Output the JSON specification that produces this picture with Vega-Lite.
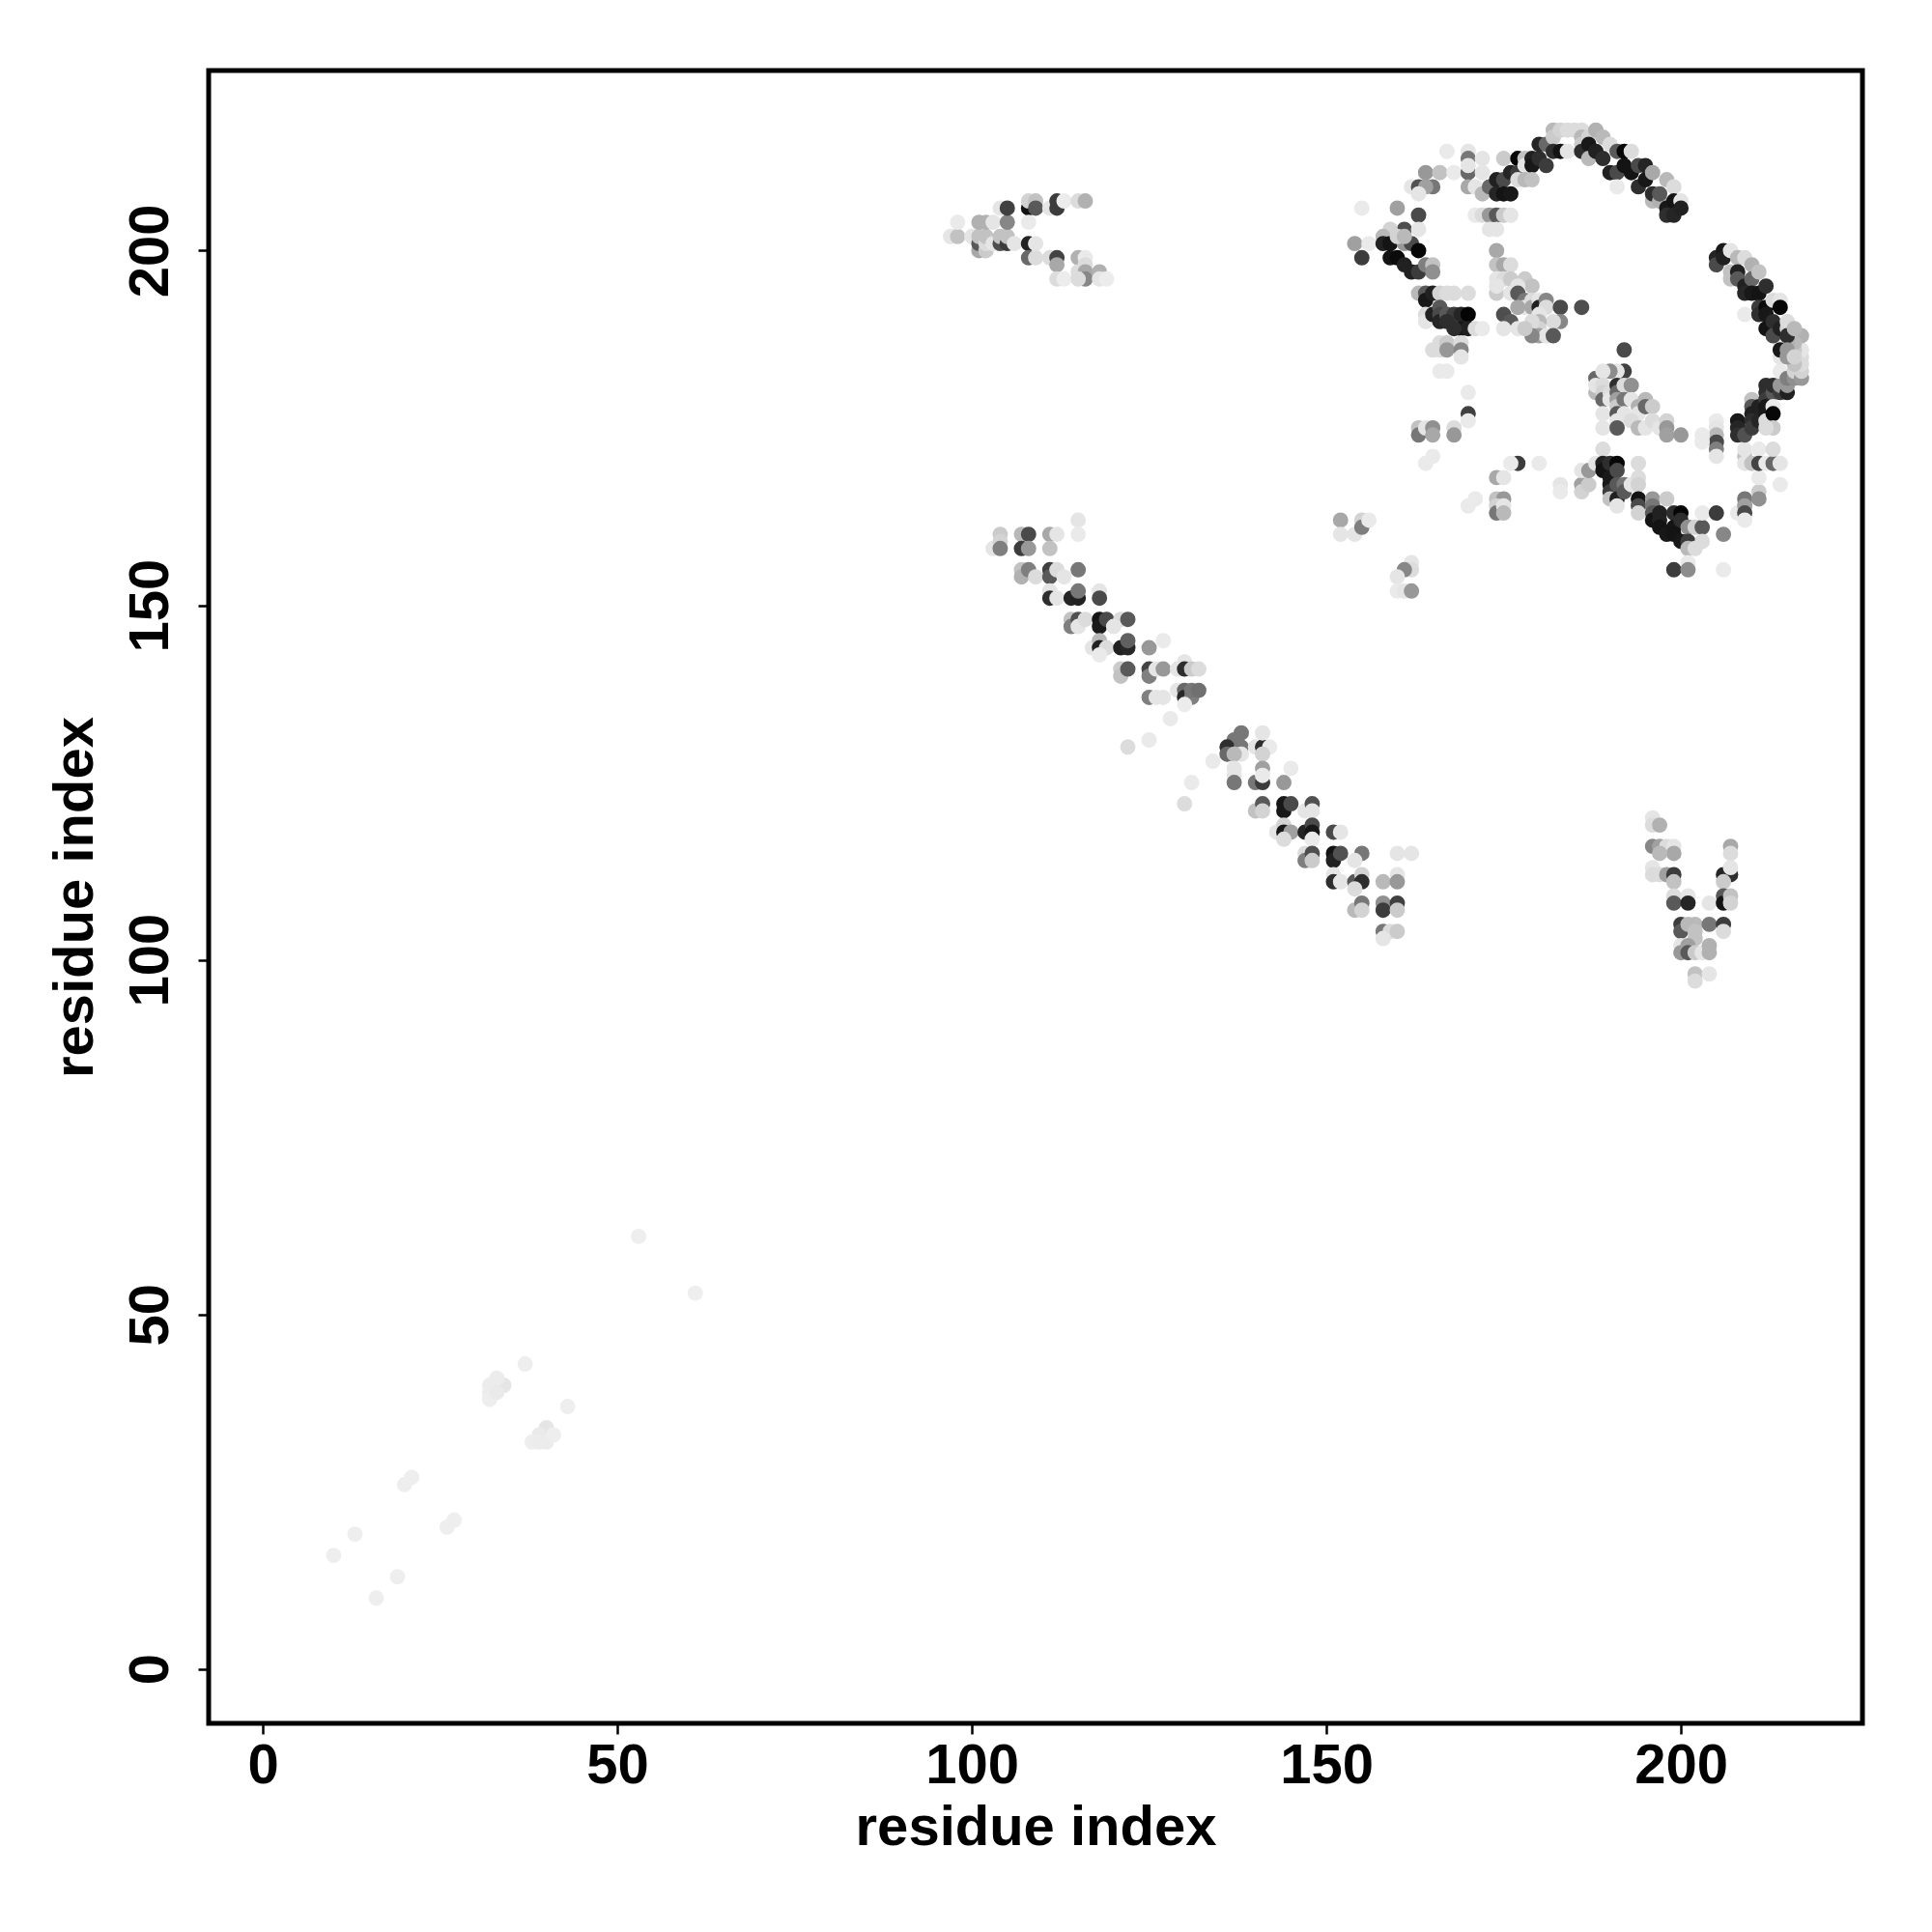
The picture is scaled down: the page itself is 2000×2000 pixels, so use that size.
{"$schema":"https://vega.github.io/schema/vega-lite/v6.json","autosize":"none","padding":{"left":216,"top":73,"right":72,"bottom":216},"width":1712,"height":1711,"background":"white","config":{"view":{"stroke":"black","strokeWidth":5}},
"data":{"values":[
{"x":53,"y":61,"v":240},{"x":61,"y":53,"v":240},{"x":37,"y":43,"v":240},{"x":43,"y":37,"v":240},{"x":34,"y":40,"v":232},{"x":33,"y":41,"v":238},{"x":32,"y":40,"v":238},{"x":32,"y":39,"v":238},{"x":32,"y":38,"v":240},{"x":33,"y":39,"v":236},{"x":40,"y":34,"v":232},{"x":39,"y":33,"v":236},{"x":38,"y":32,"v":240},{"x":39,"y":32,"v":238},{"x":40,"y":32,"v":238},{"x":41,"y":33,"v":240},{"x":21,"y":27,"v":240},{"x":20,"y":26,"v":240},{"x":27,"y":21,"v":240},{"x":26,"y":20,"v":240},{"x":13,"y":19,"v":240},{"x":10,"y":16,"v":240},{"x":19,"y":13,"v":240},{"x":16,"y":10,"v":240},
{"x":97,"y":202,"v":232},{"x":98,"y":202,"v":200},{"x":98,"y":204,"v":236},{"x":100,"y":202,"v":232},{"x":101,"y":200,"v":176},{"x":101,"y":201,"v":96},{"x":101,"y":202,"v":200},{"x":101,"y":204,"v":184},{"x":102,"y":200,"v":208},{"x":102,"y":201,"v":224},{"x":102,"y":202,"v":200},{"x":102,"y":204,"v":184},{"x":103,"y":201,"v":232},{"x":103,"y":204,"v":232},{"x":104,"y":201,"v":85},{"x":104,"y":202,"v":200},{"x":104,"y":206,"v":232},{"x":105,"y":201,"v":64},{"x":105,"y":202,"v":200},{"x":105,"y":204,"v":144},{"x":105,"y":206,"v":69},{"x":106,"y":201,"v":232},{"x":108,"y":201,"v":32},{"x":108,"y":206,"v":16},{"x":108,"y":207,"v":216},{"x":109,"y":207,"v":200},{"x":109,"y":206,"v":96},{"x":108,"y":204,"v":236},{"x":108,"y":199,"v":112},{"x":109,"y":199,"v":224},{"x":109,"y":201,"v":232},{"x":111,"y":199,"v":224},{"x":112,"y":199,"v":72},{"x":112,"y":198,"v":176},{"x":112,"y":196,"v":224},{"x":113,"y":196,"v":238},{"x":111,"y":206,"v":232},{"x":112,"y":207,"v":64},{"x":112,"y":206,"v":64},{"x":113,"y":207,"v":238},{"x":115,"y":207,"v":224},{"x":116,"y":207,"v":184},{"x":115,"y":199,"v":184},{"x":116,"y":199,"v":236},{"x":116,"y":198,"v":224},{"x":115,"y":197,"v":224},{"x":116,"y":197,"v":176},{"x":116,"y":196,"v":144},{"x":115,"y":196,"v":224},{"x":118,"y":197,"v":184},{"x":118,"y":196,"v":232},{"x":119,"y":196,"v":238},
{"x":103,"y":158,"v":232},{"x":104,"y":160,"v":208},{"x":104,"y":159,"v":216},{"x":104,"y":158,"v":136},{"x":107,"y":160,"v":192},{"x":108,"y":160,"v":80},{"x":107,"y":158,"v":64},{"x":108,"y":158,"v":160},{"x":111,"y":160,"v":176},{"x":112,"y":160,"v":232},{"x":111,"y":158,"v":200},{"x":115,"y":162,"v":232},{"x":115,"y":160,"v":236},{"x":107,"y":155,"v":200},{"x":107,"y":154,"v":184},{"x":108,"y":155,"v":136},{"x":109,"y":154,"v":224},{"x":111,"y":155,"v":69},{"x":111,"y":154,"v":96},{"x":112,"y":155,"v":224},{"x":113,"y":154,"v":232},{"x":115,"y":155,"v":128},{"x":111,"y":152,"v":232},{"x":111,"y":151,"v":48},{"x":112,"y":151,"v":232},{"x":114,"y":151,"v":37},{"x":115,"y":151,"v":32},{"x":115,"y":152,"v":128},{"x":118,"y":152,"v":232},{"x":118,"y":151,"v":80},{"x":114,"y":148,"v":200},{"x":114,"y":147,"v":136},{"x":115,"y":148,"v":88},{"x":115,"y":147,"v":232},{"x":116,"y":148,"v":224},{"x":118,"y":148,"v":16},{"x":118,"y":147,"v":24},{"x":119,"y":148,"v":80},{"x":121,"y":148,"v":224},{"x":122,"y":148,"v":96},{"x":120,"y":147,"v":232},{"x":117,"y":144,"v":232},{"x":118,"y":145,"v":192},{"x":118,"y":144,"v":32},{"x":119,"y":144,"v":224},{"x":118,"y":143,"v":236},{"x":121,"y":144,"v":32},{"x":122,"y":144,"v":40},{"x":122,"y":145,"v":104},{"x":125,"y":144,"v":160},{"x":127,"y":145,"v":236},{"x":121,"y":141,"v":208},{"x":121,"y":140,"v":200},{"x":122,"y":141,"v":96},{"x":125,"y":141,"v":72},{"x":125,"y":140,"v":136},{"x":126,"y":141,"v":232},{"x":127,"y":141,"v":160},{"x":129,"y":141,"v":232},{"x":130,"y":142,"v":232},{"x":130,"y":141,"v":48},{"x":131,"y":141,"v":208},{"x":132,"y":141,"v":224},{"x":125,"y":137,"v":136},{"x":126,"y":137,"v":232},{"x":127,"y":137,"v":232},{"x":129,"y":138,"v":232},{"x":130,"y":138,"v":112},{"x":130,"y":137,"v":40},{"x":131,"y":137,"v":136},{"x":131,"y":138,"v":128},{"x":132,"y":138,"v":120},{"x":130,"y":136,"v":238},{"x":128,"y":134,"v":236},{"x":125,"y":131,"v":236},{"x":122,"y":130,"v":224},
{"x":130,"y":122,"v":224},{"x":131,"y":125,"v":236},{"x":134,"y":128,"v":236},{"x":137,"y":131,"v":128},{"x":138,"y":132,"v":128},{"x":137,"y":130,"v":128},{"x":136,"y":130,"v":48},{"x":136,"y":129,"v":112},{"x":138,"y":130,"v":128},{"x":138,"y":129,"v":232},{"x":137,"y":129,"v":192},{"x":140,"y":130,"v":232},{"x":141,"y":130,"v":48},{"x":141,"y":132,"v":232},{"x":142,"y":130,"v":236},{"x":141,"y":129,"v":216},{"x":137,"y":127,"v":232},{"x":137,"y":126,"v":232},{"x":137,"y":125,"v":128},{"x":140,"y":125,"v":128},{"x":141,"y":127,"v":168},{"x":141,"y":125,"v":64},{"x":141,"y":126,"v":236},{"x":144,"y":125,"v":160},{"x":145,"y":127,"v":236},{"x":140,"y":121,"v":200},{"x":141,"y":122,"v":96},{"x":141,"y":121,"v":216},{"x":144,"y":122,"v":21},{"x":144,"y":121,"v":21},{"x":145,"y":122,"v":80},{"x":147,"y":121,"v":232},{"x":148,"y":122,"v":88},{"x":148,"y":121,"v":232},{"x":143,"y":118,"v":232},{"x":144,"y":119,"v":216},{"x":144,"y":118,"v":21},{"x":145,"y":118,"v":168},{"x":144,"y":117,"v":224},{"x":147,"y":118,"v":37},{"x":148,"y":119,"v":80},{"x":148,"y":118,"v":21},{"x":148,"y":117,"v":236},{"x":151,"y":118,"v":80},{"x":152,"y":118,"v":232},{"x":147,"y":115,"v":224},{"x":147,"y":114,"v":136},{"x":148,"y":115,"v":85},{"x":148,"y":114,"v":208},{"x":151,"y":115,"v":16},{"x":151,"y":114,"v":32},{"x":152,"y":115,"v":88},{"x":155,"y":115,"v":128},{"x":154,"y":114,"v":232},{"x":160,"y":115,"v":232},{"x":162,"y":115,"v":232},{"x":151,"y":112,"v":232},{"x":151,"y":111,"v":48},{"x":152,"y":111,"v":232},{"x":154,"y":111,"v":96},{"x":155,"y":112,"v":216},{"x":155,"y":111,"v":48},{"x":154,"y":110,"v":224},{"x":158,"y":111,"v":192},{"x":160,"y":112,"v":232},{"x":160,"y":111,"v":160},{"x":154,"y":107,"v":192},{"x":155,"y":108,"v":128},{"x":155,"y":107,"v":216},{"x":158,"y":108,"v":152},{"x":158,"y":107,"v":64},{"x":160,"y":108,"v":69},{"x":160,"y":107,"v":208},{"x":158,"y":104,"v":128},{"x":159,"y":104,"v":224},{"x":160,"y":104,"v":208},{"x":158,"y":103,"v":232},
{"x":196,"y":120,"v":232},{"x":196,"y":119,"v":224},{"x":197,"y":119,"v":184},{"x":196,"y":116,"v":144},{"x":197,"y":116,"v":168},{"x":198,"y":116,"v":224},{"x":199,"y":116,"v":232},{"x":199,"y":115,"v":176},{"x":197,"y":115,"v":192},{"x":196,"y":113,"v":232},{"x":196,"y":112,"v":224},{"x":197,"y":112,"v":224},{"x":198,"y":112,"v":168},{"x":199,"y":112,"v":64},{"x":199,"y":111,"v":200},{"x":199,"y":109,"v":224},{"x":199,"y":108,"v":96},{"x":201,"y":109,"v":232},{"x":201,"y":108,"v":37},{"x":204,"y":108,"v":232},{"x":200,"y":105,"v":64},{"x":200,"y":104,"v":96},{"x":201,"y":105,"v":192},{"x":202,"y":105,"v":192},{"x":202,"y":104,"v":200},{"x":202,"y":103,"v":200},{"x":204,"y":105,"v":128},{"x":206,"y":105,"v":64},{"x":206,"y":104,"v":224},{"x":200,"y":102,"v":232},{"x":200,"y":101,"v":160},{"x":201,"y":102,"v":168},{"x":201,"y":101,"v":96},{"x":202,"y":101,"v":208},{"x":203,"y":101,"v":232},{"x":204,"y":102,"v":184},{"x":204,"y":101,"v":184},{"x":202,"y":98,"v":200},{"x":202,"y":97,"v":224},{"x":204,"y":98,"v":232},{"x":207,"y":116,"v":176},{"x":207,"y":115,"v":224},{"x":206,"y":112,"v":37},{"x":207,"y":112,"v":48},{"x":207,"y":113,"v":232},{"x":206,"y":111,"v":208},{"x":206,"y":109,"v":96},{"x":206,"y":108,"v":16},{"x":207,"y":109,"v":200},{"x":207,"y":108,"v":216},
{"x":152,"y":162,"v":176},{"x":152,"y":160,"v":232},{"x":154,"y":160,"v":232},{"x":155,"y":162,"v":216},{"x":155,"y":161,"v":136},{"x":156,"y":162,"v":236},{"x":162,"y":156,"v":232},{"x":162,"y":155,"v":224},{"x":161,"y":155,"v":144},{"x":160,"y":154,"v":232},{"x":160,"y":152,"v":236},{"x":161,"y":152,"v":232},{"x":162,"y":152,"v":160},{"x":164,"y":170,"v":236},{"x":165,"y":171,"v":236},{"x":163,"y":175,"v":200},{"x":163,"y":174,"v":128},{"x":164,"y":175,"v":232},{"x":165,"y":175,"v":152},{"x":165,"y":174,"v":176},{"x":168,"y":175,"v":224},{"x":168,"y":174,"v":160},{"x":170,"y":177,"v":69},{"x":170,"y":180,"v":236},{"x":170,"y":176,"v":236},{"x":170,"y":164,"v":236},{"x":171,"y":165,"v":236},{"x":174,"y":168,"v":176},{"x":175,"y":168,"v":232},{"x":174,"y":165,"v":200},{"x":175,"y":165,"v":160},{"x":174,"y":164,"v":216},{"x":174,"y":163,"v":128},{"x":175,"y":164,"v":232},{"x":175,"y":163,"v":192},{"x":177,"y":170,"v":64},{"x":176,"y":170,"v":236},{"x":180,"y":170,"v":236},{"x":183,"y":167,"v":232},{"x":183,"y":166,"v":236},{"x":186,"y":167,"v":168},{"x":186,"y":166,"v":216},{"x":187,"y":167,"v":208},{"x":186,"y":169,"v":232},{"x":187,"y":169,"v":160},{"x":188,"y":170,"v":232},{"x":189,"y":172,"v":224},{"x":189,"y":170,"v":32},{"x":189,"y":169,"v":16},{"x":190,"y":170,"v":48},{"x":190,"y":168,"v":24},{"x":190,"y":167,"v":24},{"x":190,"y":166,"v":64},{"x":190,"y":165,"v":200},{"x":191,"y":170,"v":5},{"x":191,"y":169,"v":80},{"x":191,"y":167,"v":96},{"x":191,"y":165,"v":32},{"x":191,"y":164,"v":232},{"x":192,"y":167,"v":128},{"x":192,"y":166,"v":96},{"x":193,"y":167,"v":232},{"x":194,"y":170,"v":224},{"x":194,"y":168,"v":224},{"x":194,"y":167,"v":216},{"x":194,"y":165,"v":16},{"x":194,"y":164,"v":80},{"x":194,"y":163,"v":216},{"x":196,"y":165,"v":160},{"x":196,"y":164,"v":128},{"x":196,"y":163,"v":96},{"x":196,"y":162,"v":16},{"x":197,"y":163,"v":32},{"x":197,"y":162,"v":32},{"x":197,"y":161,"v":16},{"x":198,"y":165,"v":208},{"x":198,"y":160,"v":21},{"x":199,"y":163,"v":48},{"x":199,"y":161,"v":16},{"x":199,"y":160,"v":16},{"x":200,"y":163,"v":5},{"x":200,"y":162,"v":48},{"x":200,"y":159,"v":21},{"x":201,"y":161,"v":152},{"x":201,"y":159,"v":64},{"x":201,"y":158,"v":192},{"x":202,"y":161,"v":216},{"x":203,"y":161,"v":96},{"x":203,"y":163,"v":236},{"x":203,"y":159,"v":224},{"x":202,"y":158,"v":224},{"x":205,"y":163,"v":64},{"x":206,"y":160,"v":144},{"x":199,"y":155,"v":64},{"x":201,"y":156,"v":236},{"x":201,"y":155,"v":149},{"x":206,"y":155,"v":236},{"x":208,"y":163,"v":236},{"x":209,"y":165,"v":128},{"x":209,"y":164,"v":168},{"x":209,"y":163,"v":80},{"x":211,"y":166,"v":208},{"x":211,"y":165,"v":152},{"x":211,"y":168,"v":236},{"x":214,"y":167,"v":236},{"x":209,"y":162,"v":236},{"x":209,"y":171,"v":200},{"x":209,"y":170,"v":232},{"x":210,"y":170,"v":200},{"x":209,"y":172,"v":232},{"x":211,"y":172,"v":236},{"x":211,"y":170,"v":72},{"x":212,"y":170,"v":236},{"x":213,"y":170,"v":112},{"x":213,"y":172,"v":224},{"x":214,"y":170,"v":232},{"x":205,"y":176,"v":236},{"x":205,"y":175,"v":232},{"x":205,"y":174,"v":192},{"x":205,"y":173,"v":80},{"x":205,"y":172,"v":136},{"x":205,"y":171,"v":232},{"x":203,"y":174,"v":236},{"x":203,"y":173,"v":236},{"x":208,"y":176,"v":21},{"x":208,"y":175,"v":37},{"x":208,"y":174,"v":48},{"x":209,"y":174,"v":88},{"x":210,"y":179,"v":200},{"x":210,"y":178,"v":96},{"x":210,"y":177,"v":32},{"x":210,"y":176,"v":48},{"x":210,"y":175,"v":64},{"x":211,"y":176,"v":37},{"x":211,"y":178,"v":32},{"x":212,"y":181,"v":48},{"x":212,"y":180,"v":48},{"x":212,"y":179,"v":64},{"x":212,"y":178,"v":21},{"x":212,"y":177,"v":24},{"x":212,"y":176,"v":224},{"x":213,"y":180,"v":96},{"x":213,"y":178,"v":236},{"x":213,"y":177,"v":5},{"x":213,"y":181,"v":48},{"x":213,"y":175,"v":208},{"x":214,"y":180,"v":64},{"x":214,"y":181,"v":160},{"x":215,"y":180,"v":32},{"x":215,"y":181,"v":160},{"x":214,"y":183,"v":236},{"x":215,"y":182,"v":136},{"x":216,"y":182,"v":152},{"x":216,"y":183,"v":216},{"x":217,"y":182,"v":160},{"x":217,"y":183,"v":216},{"x":217,"y":184,"v":224},{"x":217,"y":185,"v":224},{"x":217,"y":186,"v":232},{"x":217,"y":188,"v":184},{"x":216,"y":186,"v":208},{"x":216,"y":187,"v":192},{"x":216,"y":184,"v":200},{"x":215,"y":187,"v":184},{"x":214,"y":185,"v":232},{"x":214,"y":187,"v":236},{"x":212,"y":175,"v":224},
{"x":192,"y":186,"v":80},{"x":192,"y":183,"v":69},{"x":191,"y":183,"v":232},{"x":190,"y":183,"v":149},{"x":188,"y":182,"v":112},{"x":189,"y":183,"v":232},{"x":188,"y":180,"v":192},{"x":188,"y":181,"v":232},{"x":189,"y":181,"v":224},{"x":189,"y":180,"v":216},{"x":189,"y":179,"v":112},{"x":190,"y":180,"v":224},{"x":190,"y":179,"v":232},{"x":191,"y":181,"v":48},{"x":191,"y":180,"v":112},{"x":191,"y":179,"v":168},{"x":191,"y":178,"v":208},{"x":192,"y":181,"v":224},{"x":192,"y":179,"v":128},{"x":193,"y":181,"v":152},{"x":193,"y":179,"v":232},{"x":194,"y":178,"v":184},{"x":194,"y":177,"v":232},{"x":195,"y":179,"v":192},{"x":195,"y":178,"v":112},{"x":196,"y":178,"v":208},{"x":189,"y":177,"v":232},{"x":189,"y":175,"v":232},{"x":191,"y":177,"v":96},{"x":191,"y":176,"v":232},{"x":191,"y":175,"v":96},{"x":192,"y":177,"v":232},{"x":193,"y":176,"v":224},{"x":194,"y":175,"v":192},{"x":195,"y":175,"v":232},{"x":196,"y":176,"v":224},{"x":197,"y":175,"v":232},{"x":198,"y":176,"v":216},{"x":198,"y":175,"v":160},{"x":198,"y":174,"v":168},{"x":200,"y":174,"v":160},
{"x":155,"y":206,"v":236},{"x":155,"y":199,"v":64},{"x":154,"y":201,"v":168},{"x":156,"y":201,"v":236},{"x":160,"y":206,"v":168},{"x":163,"y":205,"v":80},{"x":161,"y":203,"v":85},{"x":163,"y":203,"v":232},{"x":159,"y":203,"v":216},{"x":158,"y":202,"v":192},{"x":158,"y":201,"v":32},{"x":159,"y":201,"v":16},{"x":159,"y":199,"v":16},{"x":160,"y":199,"v":8},{"x":161,"y":201,"v":160},{"x":161,"y":198,"v":32},{"x":162,"y":201,"v":80},{"x":163,"y":200,"v":5},{"x":162,"y":197,"v":32},{"x":163,"y":197,"v":64},{"x":164,"y":198,"v":136},{"x":165,"y":198,"v":200},{"x":165,"y":197,"v":152},{"x":160,"y":202,"v":216},{"x":161,"y":202,"v":192},{"x":162,"y":209,"v":232},{"x":163,"y":209,"v":88},{"x":164,"y":211,"v":160},{"x":165,"y":209,"v":128},{"x":166,"y":211,"v":200},{"x":164,"y":209,"v":168},{"x":163,"y":208,"v":232},{"x":167,"y":214,"v":236},{"x":168,"y":211,"v":236},{"x":170,"y":214,"v":232},{"x":170,"y":213,"v":128},{"x":170,"y":211,"v":112},{"x":170,"y":212,"v":232},{"x":170,"y":209,"v":176},{"x":171,"y":209,"v":232},{"x":172,"y":213,"v":232},{"x":172,"y":211,"v":232},{"x":172,"y":208,"v":192},{"x":171,"y":205,"v":236},{"x":172,"y":205,"v":224},{"x":173,"y":205,"v":160},{"x":174,"y":205,"v":96},{"x":175,"y":205,"v":208},{"x":176,"y":205,"v":232},{"x":173,"y":203,"v":232},{"x":174,"y":203,"v":232},{"x":173,"y":209,"v":112},{"x":174,"y":210,"v":32},{"x":174,"y":208,"v":37},{"x":175,"y":213,"v":208},{"x":175,"y":210,"v":80},{"x":175,"y":208,"v":16},{"x":176,"y":211,"v":37},{"x":176,"y":208,"v":21},{"x":177,"y":213,"v":5},{"x":177,"y":211,"v":64},{"x":177,"y":210,"v":224},{"x":178,"y":213,"v":200},{"x":178,"y":212,"v":232},{"x":178,"y":210,"v":192},{"x":179,"y":213,"v":32},{"x":179,"y":212,"v":21},{"x":179,"y":210,"v":200},{"x":180,"y":215,"v":37},{"x":180,"y":213,"v":48},{"x":181,"y":215,"v":112},{"x":181,"y":212,"v":64},{"x":182,"y":217,"v":192},{"x":182,"y":216,"v":208},{"x":182,"y":214,"v":48},{"x":183,"y":217,"v":216},{"x":183,"y":214,"v":16},{"x":184,"y":217,"v":224},{"x":184,"y":214,"v":232},{"x":185,"y":217,"v":224},{"x":186,"y":217,"v":224},{"x":186,"y":216,"v":192},{"x":186,"y":215,"v":208},{"x":186,"y":214,"v":48},{"x":187,"y":216,"v":216},{"x":187,"y":215,"v":21},{"x":187,"y":213,"v":192},{"x":188,"y":217,"v":184},{"x":189,"y":216,"v":192},{"x":188,"y":214,"v":32},{"x":189,"y":213,"v":48},{"x":190,"y":215,"v":224},{"x":191,"y":214,"v":96},{"x":190,"y":211,"v":32},{"x":191,"y":211,"v":80},{"x":192,"y":214,"v":5},{"x":192,"y":212,"v":16},{"x":193,"y":214,"v":224},{"x":191,"y":209,"v":236},{"x":193,"y":211,"v":16},{"x":194,"y":212,"v":80},{"x":194,"y":209,"v":48},{"x":195,"y":212,"v":37},{"x":195,"y":210,"v":21},{"x":196,"y":211,"v":176},{"x":196,"y":207,"v":192},{"x":196,"y":208,"v":48},{"x":197,"y":207,"v":184},{"x":197,"y":208,"v":96},{"x":198,"y":210,"v":192},{"x":198,"y":206,"v":21},{"x":198,"y":205,"v":48},{"x":199,"y":209,"v":224},{"x":199,"y":207,"v":16},{"x":199,"y":205,"v":37},{"x":200,"y":207,"v":232},{"x":200,"y":206,"v":32},
{"x":205,"y":199,"v":37},{"x":205,"y":198,"v":80},{"x":206,"y":200,"v":21},{"x":206,"y":199,"v":32},{"x":207,"y":200,"v":232},{"x":207,"y":197,"v":200},{"x":207,"y":196,"v":200},{"x":208,"y":199,"v":192},{"x":208,"y":197,"v":32},{"x":208,"y":196,"v":96},{"x":209,"y":199,"v":224},{"x":209,"y":195,"v":32},{"x":209,"y":194,"v":40},{"x":209,"y":191,"v":236},{"x":210,"y":198,"v":184},{"x":210,"y":196,"v":112},{"x":210,"y":194,"v":21},{"x":211,"y":197,"v":200},{"x":211,"y":194,"v":16},{"x":211,"y":192,"v":64},{"x":211,"y":191,"v":48},{"x":212,"y":195,"v":48},{"x":212,"y":192,"v":8},{"x":212,"y":191,"v":21},{"x":212,"y":189,"v":16},{"x":213,"y":193,"v":224},{"x":213,"y":190,"v":48},{"x":213,"y":188,"v":80},{"x":214,"y":193,"v":232},{"x":214,"y":192,"v":5},{"x":214,"y":189,"v":32},{"x":214,"y":186,"v":21},{"x":215,"y":189,"v":216},{"x":215,"y":190,"v":224},{"x":215,"y":188,"v":48},{"x":216,"y":189,"v":192},{"x":215,"y":186,"v":160},{"x":215,"y":185,"v":160},{"x":216,"y":185,"v":216},
{"x":163,"y":194,"v":192},{"x":164,"y":194,"v":96},{"x":164,"y":193,"v":21},{"x":165,"y":194,"v":32},{"x":166,"y":194,"v":216},{"x":167,"y":194,"v":224},{"x":168,"y":194,"v":224},{"x":170,"y":194,"v":224},{"x":164,"y":191,"v":224},{"x":164,"y":190,"v":232},{"x":165,"y":191,"v":32},{"x":166,"y":192,"v":96},{"x":166,"y":191,"v":80},{"x":166,"y":190,"v":37},{"x":167,"y":191,"v":96},{"x":168,"y":191,"v":64},{"x":169,"y":191,"v":37},{"x":170,"y":191,"v":3},{"x":169,"y":189,"v":21},{"x":170,"y":189,"v":32},{"x":171,"y":189,"v":224},{"x":172,"y":189,"v":236},{"x":168,"y":189,"v":48},{"x":167,"y":190,"v":48},{"x":166,"y":187,"v":224},{"x":165,"y":186,"v":224},{"x":166,"y":186,"v":224},{"x":167,"y":187,"v":208},{"x":167,"y":186,"v":160},{"x":169,"y":187,"v":224},{"x":169,"y":186,"v":144},{"x":169,"y":185,"v":232},{"x":166,"y":183,"v":236},{"x":167,"y":183,"v":236},
{"x":174,"y":200,"v":176},{"x":174,"y":198,"v":200},{"x":175,"y":198,"v":176},{"x":176,"y":198,"v":224},{"x":174,"y":196,"v":232},{"x":175,"y":196,"v":224},{"x":174,"y":194,"v":208},{"x":174,"y":195,"v":232},{"x":176,"y":196,"v":208},{"x":176,"y":194,"v":232},{"x":178,"y":196,"v":208},{"x":179,"y":195,"v":200},{"x":177,"y":195,"v":232},{"x":177,"y":194,"v":96},{"x":178,"y":193,"v":128},{"x":178,"y":192,"v":232},{"x":179,"y":193,"v":224},{"x":177,"y":192,"v":176},{"x":179,"y":192,"v":176},{"x":180,"y":193,"v":232},{"x":180,"y":192,"v":32},{"x":181,"y":193,"v":144},{"x":181,"y":192,"v":224},{"x":183,"y":192,"v":80},{"x":186,"y":192,"v":85},{"x":183,"y":190,"v":144},{"x":182,"y":190,"v":224},{"x":180,"y":191,"v":232},{"x":180,"y":190,"v":192},{"x":180,"y":189,"v":216},{"x":180,"y":188,"v":168},{"x":181,"y":188,"v":232},{"x":182,"y":188,"v":96},{"x":175,"y":191,"v":85},{"x":176,"y":190,"v":96},{"x":175,"y":189,"v":232},{"x":177,"y":189,"v":232},{"x":179,"y":190,"v":224},{"x":179,"y":188,"v":144},{"x":178,"y":189,"v":208}
]},
"mark":{"type":"point","filled":true,"opacity":1,"size":254,"strokeWidth":0},
"encoding":{
"x":{"field":"x","type":"quantitative","scale":{"domain":[-7.63,225.6],"nice":false,"zero":false},"axis":{"values":[0,50,100,150,200],"title":"residue index","grid":false,"domain":false,"tickColor":"black","tickWidth":2.5,"tickSize":11,"labelFont":"Liberation Sans","labelFontWeight":"bold","labelFontSize":58,"labelColor":"black","labelPadding":4,"titleFont":"Liberation Sans","titleFontWeight":"bold","titleFontSize":58,"titleColor":"black","titlePadding":6}},
"y":{"field":"y","type":"quantitative","scale":{"domain":[-7.67,225.4],"nice":false,"zero":false},"axis":{"values":[0,50,100,150,200],"title":"residue index","grid":false,"domain":false,"tickColor":"black","tickWidth":2.5,"tickSize":11,"labelFont":"Liberation Sans","labelFontWeight":"bold","labelFontSize":58,"labelColor":"black","labelAngle":-90,"labelAlign":"center","labelBaseline":"bottom","labelPadding":20,"titleFont":"Liberation Sans","titleFontWeight":"bold","titleFontSize":58,"titleColor":"black","titlePadding":20}},
"color":{"field":"v","type":"quantitative","scale":{"domain":[0,255],"range":["#000000","#ffffff"]},"legend":null},
"order":[{"field":"x","type":"quantitative"},{"field":"y","type":"quantitative"}]
}}
